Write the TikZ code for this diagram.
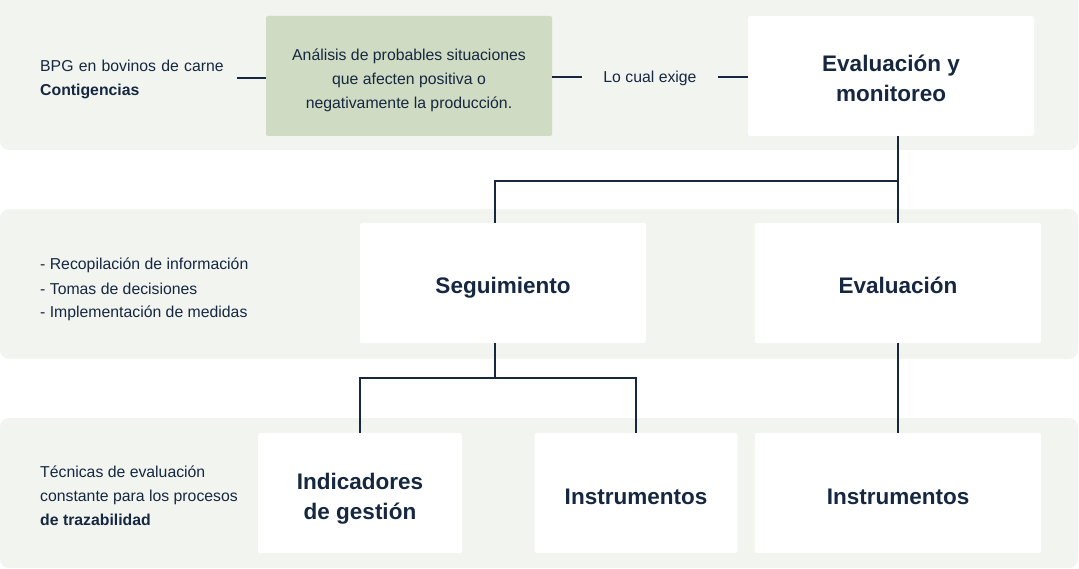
\documentclass[tikz,border=0pt]{standalone}
\usepackage{fontspec}
\setmainfont{Liberation Sans}
\definecolor{bandgray}{RGB}{242,244,240}
\definecolor{sage}{RGB}{207,219,195}
\definecolor{navy}{RGB}{22,39,64}
\begin{document}
\begin{tikzpicture}[x=1pt,y=-1pt,
    band/.style={fill=bandgray,rounded corners=9pt},
    card/.style={fill=white,rounded corners=2pt,inner sep=0pt,text=navy,align=center,
      text depth=0pt,text height=22pt,font=\fontsize{22.5}{30}\selectfont\bfseries},
    cardtwo/.style={card,text height=52pt},
    sagebox/.style={fill=sage,rounded corners=2pt,inner sep=0pt,text=navy,align=center,
      text depth=0pt,text height=66pt,font=\fontsize{15.8}{24}\selectfont},
    note/.style={inner sep=0pt,text=navy,align=left,anchor=west,text depth=0pt,
      font=\fontsize{15.8}{24}\selectfont},
    link/.style={draw=navy,line width=2pt}]
        \useasboundingbox (0,0) rectangle (1079,569);
        % bands
        \fill[band] (0,-10) rectangle (1078,150);
        \fill[band] (0,209) rectangle (1078,359);
        \fill[band] (0,418) rectangle (1078,568);
        % top row
        \node [note, text width=197, text height=12pt, text depth=24pt] (bpg) at (40,78) {BPG en bovinos de carne\\\textbf{Contigencias}};
        \node [sagebox, minimum width=286, minimum height=120] (analisis) at (409,76) {Análisis de probables situaciones\\que afecten positiva o\\negativamente la producción.};
        \node [note, anchor=center, align=center, minimum width=136, text height=12pt] (exige) at (650,77) {Lo cual exige};
        \node [cardtwo, minimum width=286, minimum height=120] (evalmon) at (891,76) {Evaluación y\\monitoreo};
        \draw[link] (bpg.east) -- (bpg.east -| analisis.west);
        \draw[link] (exige.west -| analisis.east) -- (exige.west);
        \draw[link] (exige.east) -- (exige.east -| evalmon.west);
        % middle row
        \node [note, text height=68pt] (tareas) at (40,284) {- Recopilación de información\\- Tomas de decisiones\\- Implementación de medidas};
        \node [card, minimum width=286, minimum height=120] (seg) at (503,283) {Seguimiento};
        \node [card, minimum width=286, minimum height=120] (evalua) at (898,283) {Evaluación};
        \coordinate (split1) at (495,181);
        \draw[link] (evalua.north) -- (evalua.north |- evalmon.south);
        \draw[link] (seg.north -| split1) -- (split1) -- (split1 -| evalua.north);
        % bottom row
        \node [note, text height=64pt] (tecnicas) at (40,493) {Técnicas de evaluación\\constante para los procesos\\\textbf{de trazabilidad}};
        \node [cardtwo, minimum width=204, minimum height=120] (indic) at (360,493) {Indicadores\\de gestión};
        \node [card, minimum width=203, minimum height=120] (instr1) at (636,493) {Instrumentos};
        \node [card, minimum width=286, minimum height=120] (instr2) at (898,493) {Instrumentos};
        \coordinate (split2) at (495,378);
        \draw[link] (seg.south -| split2) -- (split2);
        \draw[link] (indic.north) |- (split2);
        \draw[link] (instr1.north) |- (split2);
        \draw[link] (evalua.south) -- (instr2.north);
\end{tikzpicture}
\end{document}
